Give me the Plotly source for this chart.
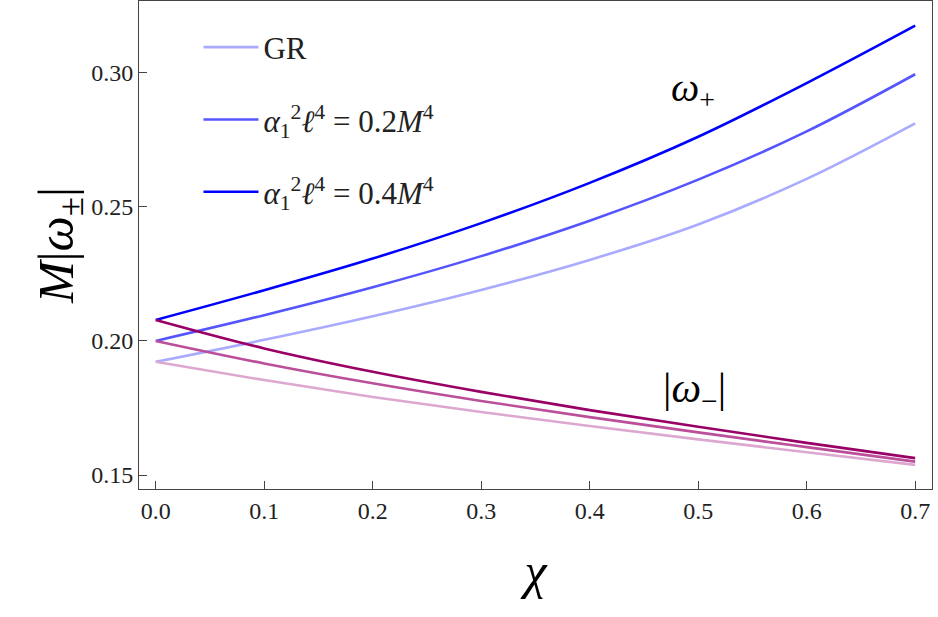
import plotly.graph_objects as go

chi = [0.0, 0.1, 0.2, 0.3, 0.4, 0.5, 0.6, 0.7]

plus_gr = [0.1922, 0.2004, 0.2092, 0.2190, 0.2302, 0.2434, 0.2604, 0.2811]
plus_02 = [0.2000, 0.2096, 0.2200, 0.2316, 0.2448, 0.2601, 0.2781, 0.2994]
plus_04 = [0.2078, 0.2189, 0.2307, 0.2439, 0.2589, 0.2761, 0.2961, 0.3175]

minus_gr = [0.1922, 0.1854, 0.1791, 0.1735, 0.1683, 0.1633, 0.1585, 0.1538]
minus_02 = [0.2000, 0.1916, 0.1842, 0.1776, 0.1716, 0.1659, 0.1604, 0.1550]
minus_04 = [0.2078, 0.1972, 0.1885, 0.1810, 0.1742, 0.1680, 0.1620, 0.1563]

legend_names = [
    "GR",
    "<i>α</i><sub>1</sub><sup>2</sup><i>ℓ</i><sup>4</sup> = 0.2<i>M</i><sup>4</sup>",
    "<i>α</i><sub>1</sub><sup>2</sup><i>ℓ</i><sup>4</sup> = 0.4<i>M</i><sup>4</sup>",
]
plus_colors = ["#aaaaff", "#5555ff", "#0000ff"]
minus_colors = ["#dca8cf", "#bb4f99", "#990066"]

FONT = "Liberation Serif, DejaVu Serif, serif"

fig = go.Figure()
for i, (ys, name) in enumerate(zip([plus_gr, plus_02, plus_04], legend_names)):
    fig.add_trace(go.Scatter(x=chi, y=ys, mode="lines", name=name,
                             line=dict(color=plus_colors[i], width=2.6, shape="spline", smoothing=1.0),
                             legendgroup=f"g{i}"))
for i, ys in enumerate([minus_gr, minus_02, minus_04]):
    fig.add_trace(go.Scatter(x=chi, y=ys, mode="lines", showlegend=False,
                             line=dict(color=minus_colors[i], width=2.6, shape="spline", smoothing=1.0)))

fig.add_annotation(x=0.495, y=0.2935, xref="x", yref="y", text="<i>ω</i><sub>+</sub>",
                   showarrow=False, font=dict(family=FONT, size=40, color="black"))
fig.add_annotation(x=0.497, y=0.1815, xref="x", yref="y", text="|<i>ω</i><sub>−</sub>|",
                   showarrow=False, font=dict(family=FONT, size=42, color="black"))

axis_common = dict(showgrid=False, zeroline=False, showline=True, linecolor="#444444", linewidth=1,
                   mirror=True, ticks="inside", ticklen=8, tickcolor="#444444",
                   tickfont=dict(family=FONT, size=24, color="#222222"))

fig.update_layout(
    width=938, height=617,
    margin=dict(l=139, r=6, t=1, b=128),
    paper_bgcolor="white", plot_bgcolor="white",
    showlegend=True,
    legend=dict(x=0.075, y=0.96, xanchor="left", yanchor="top", bgcolor="rgba(0,0,0,0)",
                font=dict(family=FONT, size=31, color="#222222"), tracegroupgap=29,
                itemwidth=55),
    xaxis=dict(range=[-0.0154, 0.7155], tickvals=[0, 0.1, 0.2, 0.3, 0.4, 0.5, 0.6, 0.7],
               tickformat=".1f",
               title=dict(text="<i>χ</i>", font=dict(family=FONT, size=50, color="black"), standoff=30),
               **axis_common),
    yaxis=dict(range=[0.1448, 0.3267], tickvals=[0.15, 0.20, 0.25, 0.30], tickformat=".2f",
               title=dict(text="<i>M</i>|<i>ω</i><sub>±</sub>|", font=dict(family=FONT, size=50, color="black"), standoff=0),
               **axis_common),
)

fig.write_html("out.html")
